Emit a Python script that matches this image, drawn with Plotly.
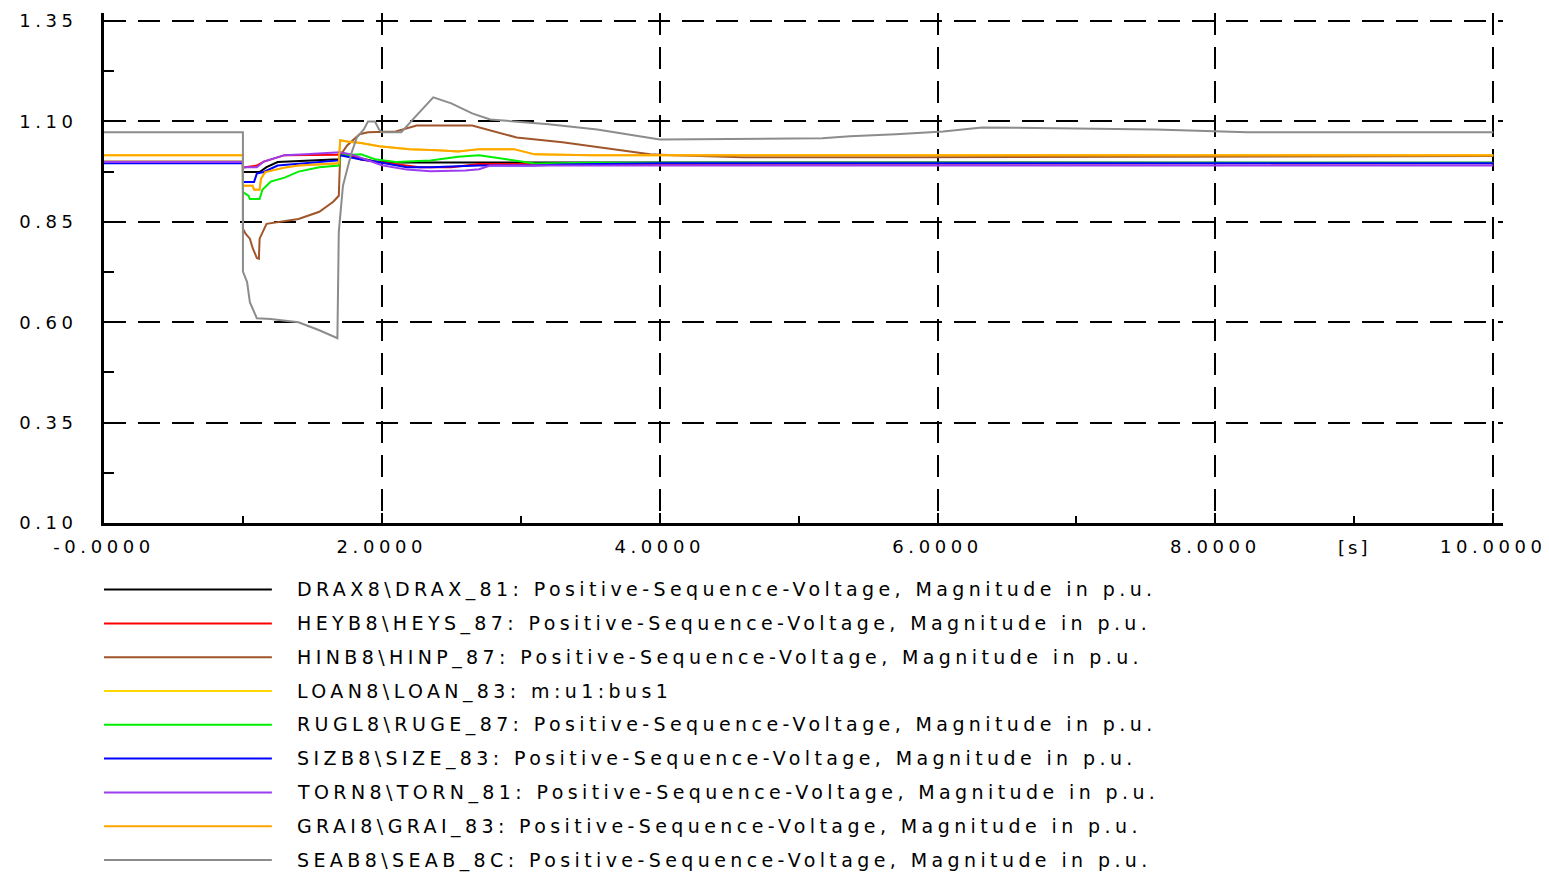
"""Tensions directes des jeux de barres lors d'un défaut (simulation 0-10 s)"""

import plotly.graph_objects as go

# --- Données ----------------------------------------------------------------
noms = [
    "DRAX8\\DRAX_81: Positive-Sequence-Voltage, Magnitude in p.u.",
    "HEYB8\\HEYS_87: Positive-Sequence-Voltage, Magnitude in p.u.",
    "HINB8\\HINP_87: Positive-Sequence-Voltage, Magnitude in p.u.",
    "LOAN8\\LOAN_83: m:u1:bus1",
    "RUGL8\\RUGE_87: Positive-Sequence-Voltage, Magnitude in p.u.",
    "SIZB8\\SIZE_83: Positive-Sequence-Voltage, Magnitude in p.u.",
    "TORN8\\TORN_81: Positive-Sequence-Voltage, Magnitude in p.u.",
    "GRAI8\\GRAI_83: Positive-Sequence-Voltage, Magnitude in p.u.",
    "SEAB8\\SEAB_8C: Positive-Sequence-Voltage, Magnitude in p.u.",
]
couleurs = ["#000000", "#ff0000", "#a0552a", "#ffd700", "#00ee00",
            "#0000ff", "#9b3cf0", "#ffa500", "#8c8c8c"]

t_drax = [0, 1.0, 1.0, 1.12, 1.17, 1.25, 1.69, 1.70, 1.8, 1.95, 2.1, 2.9, 10]
v_drax = [0.998, 0.998, 0.974, 0.974, 0.986, 0.999, 1.006, 1.02, 1.012, 1.0,
          0.998, 0.998, 0.997]

t_heyb = [0, 1.0, 1.0, 1.1, 1.15, 1.3, 1.69, 1.75, 1.85, 1.95, 2.27, 2.5,
          2.7, 3.1, 10]
v_heyb = [0.998, 0.998, 0.985, 0.99, 1.0, 1.016, 1.017, 1.017, 1.005, 1.0,
          0.986, 0.986, 0.994, 0.994, 0.996]

t_hinb = [0, 1.0, 1.0, 1.02, 1.05, 1.07, 1.1, 1.115, 1.12, 1.17, 1.4, 1.55,
          1.65, 1.69, 1.70, 1.75, 1.84, 1.9, 2.1, 2.25, 2.65, 2.97, 3.3,
          3.55, 3.93, 4.1, 4.6, 5.8, 10]
v_hinb = [1.0, 1.0, 0.833, 0.82, 0.808, 0.785, 0.76, 0.758, 0.808, 0.845,
          0.857, 0.875, 0.90, 0.915, 1.015, 1.04, 1.068, 1.073, 1.075, 1.09,
          1.09, 1.06, 1.048, 1.036, 1.018, 1.016, 1.011, 1.011, 1.014]

t_loan = [0, 1.0, 1.0, 1.07, 1.08, 1.12, 1.13, 1.16, 1.3, 1.4, 1.69, 1.70,
          1.75, 1.85, 1.98, 2.2, 2.4, 2.55, 2.7, 2.95, 3.1, 3.5, 10]
v_loan = [1.016, 1.016, 0.94, 0.94, 0.93, 0.93, 0.957, 0.974, 0.985, 0.99,
          0.996, 1.053, 1.05, 1.046, 1.038, 1.031, 1.028, 1.025, 1.031,
          1.031, 1.018, 1.016, 1.016]

t_rugl = [0, 1.0, 1.0, 1.04, 1.05, 1.12, 1.14, 1.2, 1.3, 1.4, 1.55, 1.69,
          1.70, 1.85, 1.95, 2.1, 2.35, 2.55, 2.7, 2.95, 3.1, 3.5, 10]
v_rugl = [0.998, 0.998, 0.924, 0.915, 0.907, 0.907, 0.93, 0.95, 0.96, 0.975,
          0.986, 0.99, 1.015, 1.018, 1.006, 0.999, 1.003, 1.012, 1.016,
          1.003, 0.995, 0.997, 0.997]

t_sizb = [0, 1.0, 1.0, 1.08, 1.1, 1.15, 1.25, 1.4, 1.69, 1.70, 1.85, 1.95,
          2.18, 2.35, 2.7, 3.1, 3.3, 4.0, 10]
v_sizb = [0.996, 0.996, 0.949, 0.949, 0.97, 0.974, 0.99, 0.994, 1.003, 1.016,
          1.005, 1.0, 0.986, 0.986, 0.99, 0.99, 0.993, 0.996, 0.996]

t_torn = [0, 1.0, 1.0, 1.1, 1.15, 1.3, 1.45, 1.7, 1.78, 1.9, 2.0, 2.18,
          2.35, 2.6, 2.7, 2.78, 10]
v_torn = [0.999, 0.999, 0.986, 0.986, 1.0, 1.016, 1.018, 1.023, 1.018,
          1.003, 0.991, 0.98, 0.976, 0.978, 0.981, 0.99, 0.99]

t_grai = [0, 1.0, 1.0, 1.07, 1.08, 1.12, 1.13, 1.16, 1.3, 1.4, 1.69, 1.70,
          1.75, 1.85, 1.98, 2.2, 2.4, 2.55, 2.7, 2.95, 3.1, 3.5, 10]
v_grai = [1.016, 1.016, 0.94, 0.94, 0.93, 0.93, 0.957, 0.974, 0.985, 0.99,
          0.996, 1.053, 1.05, 1.046, 1.038, 1.031, 1.028, 1.025, 1.031,
          1.031, 1.018, 1.016, 1.016]

t_seab = [0, 1.0, 1.0, 1.03, 1.05, 1.1, 1.2, 1.4, 1.55, 1.68, 1.69, 1.72,
          1.78, 1.82, 1.87, 1.9, 1.95, 1.98, 2.0, 2.14, 2.25, 2.37, 2.5,
          2.65, 2.78, 3.2, 3.55, 3.93, 4.0, 5.17, 5.37, 5.7, 6.04, 6.32,
          7.57, 8.23, 10]
v_seab = [1.073, 1.073, 0.726, 0.70, 0.65, 0.61, 0.608, 0.60, 0.58, 0.56,
          0.825, 0.94, 1.02, 1.06, 1.08, 1.10, 1.10, 1.08, 1.073, 1.073,
          1.115, 1.16, 1.145, 1.12, 1.105, 1.093, 1.08, 1.058, 1.055, 1.058,
          1.063, 1.068, 1.075, 1.085, 1.08, 1.073, 1.073]

temps = [t_drax, t_heyb, t_hinb, t_loan, t_rugl, t_sizb, t_torn, t_grai, t_seab]
tensions = [v_drax, v_heyb, v_hinb, v_loan, v_rugl, v_sizb, v_torn, v_grai, v_seab]

y_ticks = [0.10, 0.35, 0.60, 0.85, 1.10, 1.35]
y_tick_labels = ["0.10", "0.35", "0.60", "0.85", "1.10", "1.35"]
x_ticks = [0, 2, 4, 6, 8, 10]
x_tick_labels = ["-0.0000", "2.0000", "4.0000", "6.0000", "8.0000", "10.0000"]
unite_x = "[s]"
position_unite = 9


def espace(texte, px):
    """Texte avec un espacement des lettres élargi"""
    return f'<span style="letter-spacing:{px}px">{texte}</span>'


fig = go.Figure()
for t, v, nom, c in zip(temps, tensions, noms, couleurs):
    fig.add_trace(go.Scatter(x=t, y=v, mode="lines", name=nom,
                             line=dict(color=c, width=2), showlegend=False))

POLICE = "DejaVu Sans, Verdana, sans-serif"

# Légende dessinée sous le graphe (lignes longues comme l'original)
for i, (nom, c) in enumerate(zip(noms, couleurs)):
    y_px = 590 + 34 * i
    y_paper = (523 - y_px) / 513
    fig.add_shape(type="line", xref="paper", yref="paper",
                  x0=0, x1=0.12, y0=y_paper, y1=y_paper,
                  line=dict(color=c, width=2))
    fig.add_annotation(xref="paper", yref="paper", x=0.1365, y=y_paper,
                       text=espace(nom, 4.4), showarrow=False,
                       xanchor="left", yanchor="middle",
                       font=dict(family=POLICE, size=19, color="black"))

fig.add_annotation(x=position_unite, y=0.10, yref="y", xref="x",
                   text=espace(unite_x, 3), showarrow=False,
                   xanchor="center", yanchor="top", yshift=-12,
                   font=dict(family=POLICE, size=18, color="black"))

axe = dict(showline=True, linecolor="black", linewidth=3,
           showgrid=True, gridcolor="black", gridwidth=2,
           griddash="22px,12px", zeroline=False,
           ticks="inside", ticklen=10, tickwidth=2, tickcolor="black",
           ticklabeloverflow="allow",
           tickfont=dict(family=POLICE, size=18, color="black"))

fig.update_xaxes(**axe, range=[0, 10.07], tickvals=x_ticks,
                 ticktext=[espace(s, 4.6) for s in x_tick_labels],
                 ticklabelstandoff=5,
                 minor=dict(ticks="inside", ticklen=7, tickwidth=2,
                            tickcolor="black", dtick=1, tick0=0,
                            showgrid=False))
fig.update_yaxes(**axe, range=[0.10, 1.37], tickvals=y_ticks,
                 ticktext=[espace(s, 4.5) for s in y_tick_labels],
                 ticklabelstandoff=20,
                 minor=dict(ticks="inside", ticklen=10, tickwidth=2,
                            tickcolor="black", dtick=0.125, tick0=0.10,
                            showgrid=False))

# La page ajoute une marge de 8 px : figure réduite d'autant
fig.update_layout(
    width=1541, height=864,
    margin=dict(l=96, r=46, t=2, b=349),
    plot_bgcolor="white", paper_bgcolor="white",
    showlegend=False,
)

fig.write_html("out.html")
